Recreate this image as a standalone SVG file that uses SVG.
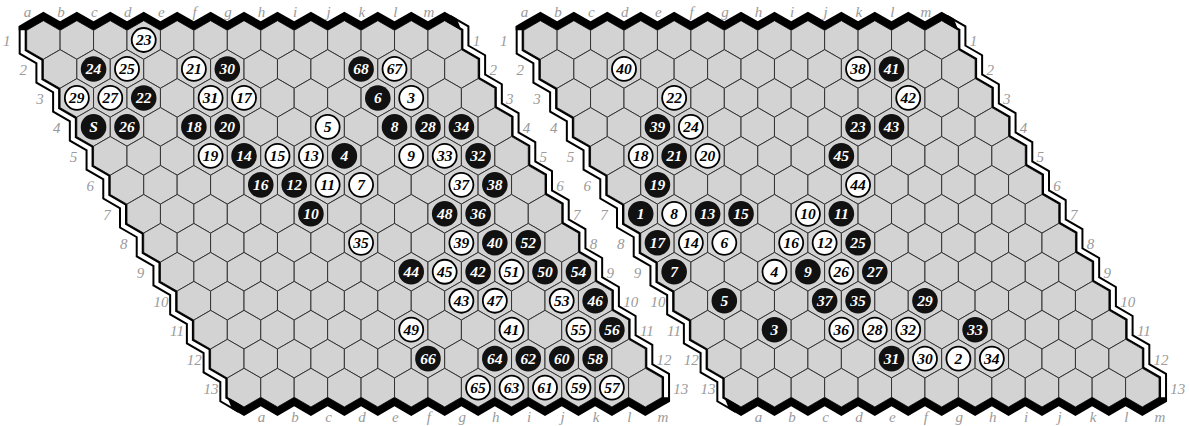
<svg xmlns="http://www.w3.org/2000/svg" width="1190" height="426" viewBox="0 0 1190 426">
<style>
.c{fill:#d3d3d3;stroke:#333;stroke-width:1}
.wb1{fill:none;stroke:#000;stroke-width:8;stroke-linejoin:miter}
.wb2{fill:none;stroke:#fff;stroke-width:4;stroke-linejoin:miter}
.bb{fill:#000}
.lb{font-family:'Liberation Serif','Times New Roman',Times,serif;font-style:italic;font-size:15px;fill:#9a9a9a}
.lt text{text-anchor:middle}
.k{fill:#111}
.w{fill:#fff;stroke:#000;stroke-width:1.8}
.n{font-family:'Liberation Serif','Times New Roman',Times,serif;font-style:italic;font-weight:bold;font-size:15.5px;text-anchor:middle}
.nk{fill:#fff}
.nw{fill:#000}
</style>
<defs>
<path id="hx" class="c" d="M0-19.31L16.72-9.655V9.655L0 19.31L-16.72 9.655V-9.655Z"/>
<g id="row"><use href="#hx"/><use href="#hx" x="33.44"/><use href="#hx" x="66.88"/><use href="#hx" x="100.32"/><use href="#hx" x="133.76"/><use href="#hx" x="167.2"/><use href="#hx" x="200.64"/><use href="#hx" x="234.08"/><use href="#hx" x="267.52"/><use href="#hx" x="300.96"/><use href="#hx" x="334.4"/><use href="#hx" x="367.84"/><use href="#hx" x="401.28"/></g>
<g id="cells"><use href="#row"/><use href="#row" x="16.72" y="28.97"/><use href="#row" x="33.44" y="57.94"/><use href="#row" x="50.16" y="86.91"/><use href="#row" x="66.88" y="115.88"/><use href="#row" x="83.6" y="144.85"/><use href="#row" x="100.32" y="173.82"/><use href="#row" x="117.04" y="202.79"/><use href="#row" x="133.76" y="231.76"/><use href="#row" x="150.48" y="260.73"/><use href="#row" x="167.2" y="289.7"/><use href="#row" x="183.92" y="318.67"/><use href="#row" x="200.64" y="347.64"/></g>
<path id="lp" d="M26.68 24V49.655l16.72 9.655v19.31l16.72 9.655v19.31l16.72 9.655v19.31l16.72 9.655v19.31l16.72 9.655v19.31l16.72 9.655v19.31l16.72 9.655v19.31l16.72 9.655v19.31l16.72 9.655v19.31l16.72 9.655v19.31l16.72 9.655v19.31l16.72 9.655v19.31l16.72 9.655"/>
<path id="rp" d="M444.68 20.69l16.72 9.655v19.31l16.72 9.655v19.31l16.72 9.655v19.31l16.72 9.655v19.31l16.72 9.655v19.31l16.72 9.655v19.31l16.72 9.655v19.31l16.72 9.655v19.31l16.72 9.655v19.31l16.72 9.655v19.31l16.72 9.655v19.31l16.72 9.655v19.31l16.72 9.655v19.31v6"/>
<path id="tb" d="M18.68 25.96L26.68 21.345l16.72-9.655l16.72 9.655l16.72-9.655l16.72 9.655l16.72-9.655l16.72 9.655l16.72-9.655l16.72 9.655l16.72-9.655l16.72 9.655l16.72-9.655l16.72 9.655l16.72-9.655l16.72 9.655l16.72-9.655l16.72 9.655l16.72-9.655l16.72 9.655l16.72-9.655l16.72 9.655l16.72-9.655l16.72 9.655l16.72-9.655l16.72 9.655l16.72-9.655l12 6.928L461.4 30.345l-16.72-9.655l-16.72 9.655l-16.72-9.655l-16.72 9.655l-16.72-9.655l-16.72 9.655l-16.72-9.655l-16.72 9.655l-16.72-9.655l-16.72 9.655l-16.72-9.655l-16.72 9.655l-16.72-9.655l-16.72 9.655l-16.72-9.655l-16.72 9.655l-16.72-9.655l-16.72 9.655l-16.72-9.655l-16.72 9.655l-16.72-9.655l-16.72 9.655l-16.72-9.655l-16.72 9.655l-16.72-9.655l-16.72 9.655L18.68 30.345Z"/>
<path id="bt" d="M227.32 397.3L232 409L244.04 415.95l16.72-9.655l16.72 9.655l16.72-9.655l16.72 9.655l16.72-9.655l16.72 9.655l16.72-9.655l16.72 9.655l16.72-9.655l16.72 9.655l16.72-9.655l16.72 9.655l16.72-9.655l16.72 9.655l16.72-9.655l16.72 9.655l16.72-9.655l16.72 9.655l16.72-9.655l16.72 9.655l16.72-9.655l16.72 9.655l16.72-9.655l16.72 9.655l16.72-9.655l8-4.62V397.3H662.04l-16.72 9.655l-16.72-9.655l-16.72 9.655l-16.72-9.655l-16.72 9.655l-16.72-9.655l-16.72 9.655l-16.72-9.655l-16.72 9.655l-16.72-9.655l-16.72 9.655l-16.72-9.655l-16.72 9.655l-16.72-9.655l-16.72 9.655l-16.72-9.655l-16.72 9.655l-16.72-9.655l-16.72 9.655l-16.72-9.655l-16.72 9.655l-16.72-9.655l-16.72 9.655l-16.72-9.655l-16.72 9.655l-16.72-9.655Z"/>
</defs>

<g id="board1">
<g id="board1-cells"><use href="#cells" x="43.4" y="40"/></g>
<g id="board1-edges">
<use href="#lp" class="wb1" x="-4" y="2.31"/><use href="#lp" class="wb2" x="-4" y="2.31"/>
<use href="#rp" class="wb1" x="4" y="-2.31"/><use href="#rp" class="wb2" x="4" y="-2.31"/>
<use href="#tb" class="bb"/><use href="#bt" class="bb"/>
</g>
<g id="board1-labels" class="lb" font-family="Liberation Serif, serif" font-style="italic">
<g class="lt">
<text x="27.5" y="17">a</text><text x="61" y="17">b</text><text x="94.4" y="17">c</text><text x="127.8" y="17">d</text><text x="161.3" y="17">e</text><text x="194.7" y="17">f</text><text x="228.1" y="17">g</text><text x="261.6" y="17">h</text><text x="295" y="17">i</text><text x="328.5" y="17">j</text><text x="361.9" y="17">k</text><text x="395.3" y="17">l</text><text x="428.8" y="17">m</text>
<text x="261.6" y="422">a</text><text x="295" y="422">b</text><text x="328.5" y="422">c</text><text x="361.9" y="422">d</text><text x="395.3" y="422">e</text><text x="428.8" y="422">f</text><text x="462.2" y="422">g</text><text x="495.7" y="422">h</text><text x="529.1" y="422">i</text><text x="562.5" y="422">j</text><text x="596" y="422">k</text><text x="629.4" y="422">l</text><text x="662.9" y="422">m</text>
</g>
<text x="2.9" y="46">1</text><text x="19.62" y="75">2</text><text x="36.34" y="104">3</text><text x="53.06" y="133">4</text><text x="69.78" y="161.9">5</text><text x="86.5" y="190.9">6</text><text x="103.22" y="219.8">7</text><text x="119.94" y="248.8">8</text><text x="136.66" y="277.8">9</text><text x="153.38" y="306.7">10</text><text x="170.1" y="335.7">11</text><text x="186.82" y="364.7">12</text><text x="203.54" y="393.6">13</text>
<text x="472.68" y="46">1</text><text x="489.4" y="75">2</text><text x="506.12" y="104">3</text><text x="522.84" y="133">4</text><text x="539.56" y="161.9">5</text><text x="556.28" y="190.9">6</text><text x="573" y="219.8">7</text><text x="589.72" y="248.8">8</text><text x="606.44" y="277.8">9</text><text x="623.16" y="306.7">10</text><text x="639.88" y="335.7">11</text><text x="656.6" y="364.7">12</text><text x="673.32" y="393.6">13</text>
</g>
<g id="board1-stones" font-family="Liberation Serif, serif" font-style="italic" font-weight="bold">
<g id="b1-23" transform="translate(143.72,40)"><circle class="w" r="12"/><text class="n nw" y="5.3">23</text></g>
<g id="b1-24" transform="translate(93.56,68.97)"><circle class="k" r="12.8"/><text class="n nk" y="5.3">24</text></g>
<g id="b1-25" transform="translate(127,68.97)"><circle class="w" r="12"/><text class="n nw" y="5.3">25</text></g>
<g id="b1-21" transform="translate(193.88,68.97)"><circle class="w" r="12"/><text class="n nw" y="5.3">21</text></g>
<g id="b1-30" transform="translate(227.32,68.97)"><circle class="k" r="12.8"/><text class="n nk" y="5.3">30</text></g>
<g id="b1-68" transform="translate(361.08,68.97)"><circle class="k" r="12.8"/><text class="n nk" y="5.3">68</text></g>
<g id="b1-67" transform="translate(394.52,68.97)"><circle class="w" r="12"/><text class="n nw" y="5.3">67</text></g>
<g id="b1-29" transform="translate(76.84,97.94)"><circle class="w" r="12"/><text class="n nw" y="5.3">29</text></g>
<g id="b1-27" transform="translate(110.28,97.94)"><circle class="w" r="12"/><text class="n nw" y="5.3">27</text></g>
<g id="b1-22" transform="translate(143.72,97.94)"><circle class="k" r="12.8"/><text class="n nk" y="5.3">22</text></g>
<g id="b1-31" transform="translate(210.6,97.94)"><circle class="w" r="12"/><text class="n nw" y="5.3">31</text></g>
<g id="b1-17" transform="translate(244.04,97.94)"><circle class="w" r="12"/><text class="n nw" y="5.3">17</text></g>
<g id="b1-6" transform="translate(377.8,97.94)"><circle class="k" r="12.8"/><text class="n nk" y="5.3">6</text></g>
<g id="b1-3" transform="translate(411.24,97.94)"><circle class="w" r="12"/><text class="n nw" y="5.3">3</text></g>
<g id="b1-S" transform="translate(93.56,126.91)"><circle class="k" r="12.8"/><text class="n nk" y="5.3">S</text></g>
<g id="b1-26" transform="translate(127,126.91)"><circle class="k" r="12.8"/><text class="n nk" y="5.3">26</text></g>
<g id="b1-18" transform="translate(193.88,126.91)"><circle class="k" r="12.8"/><text class="n nk" y="5.3">18</text></g>
<g id="b1-20" transform="translate(227.32,126.91)"><circle class="k" r="12.8"/><text class="n nk" y="5.3">20</text></g>
<g id="b1-5" transform="translate(327.64,126.91)"><circle class="w" r="12"/><text class="n nw" y="5.3">5</text></g>
<g id="b1-8" transform="translate(394.52,126.91)"><circle class="k" r="12.8"/><text class="n nk" y="5.3">8</text></g>
<g id="b1-28" transform="translate(427.96,126.91)"><circle class="k" r="12.8"/><text class="n nk" y="5.3">28</text></g>
<g id="b1-34" transform="translate(461.4,126.91)"><circle class="k" r="12.8"/><text class="n nk" y="5.3">34</text></g>
<g id="b1-19" transform="translate(210.6,155.88)"><circle class="w" r="12"/><text class="n nw" y="5.3">19</text></g>
<g id="b1-14" transform="translate(244.04,155.88)"><circle class="k" r="12.8"/><text class="n nk" y="5.3">14</text></g>
<g id="b1-15" transform="translate(277.48,155.88)"><circle class="w" r="12"/><text class="n nw" y="5.3">15</text></g>
<g id="b1-13" transform="translate(310.92,155.88)"><circle class="w" r="12"/><text class="n nw" y="5.3">13</text></g>
<g id="b1-4" transform="translate(344.36,155.88)"><circle class="k" r="12.8"/><text class="n nk" y="5.3">4</text></g>
<g id="b1-9" transform="translate(411.24,155.88)"><circle class="w" r="12"/><text class="n nw" y="5.3">9</text></g>
<g id="b1-33" transform="translate(444.68,155.88)"><circle class="w" r="12"/><text class="n nw" y="5.3">33</text></g>
<g id="b1-32" transform="translate(478.12,155.88)"><circle class="k" r="12.8"/><text class="n nk" y="5.3">32</text></g>
<g id="b1-16" transform="translate(260.76,184.85)"><circle class="k" r="12.8"/><text class="n nk" y="5.3">16</text></g>
<g id="b1-12" transform="translate(294.2,184.85)"><circle class="k" r="12.8"/><text class="n nk" y="5.3">12</text></g>
<g id="b1-11" transform="translate(327.64,184.85)"><circle class="w" r="12"/><text class="n nw" y="5.3">11</text></g>
<g id="b1-7" transform="translate(361.08,184.85)"><circle class="w" r="12"/><text class="n nw" y="5.3">7</text></g>
<g id="b1-37" transform="translate(461.4,184.85)"><circle class="w" r="12"/><text class="n nw" y="5.3">37</text></g>
<g id="b1-38" transform="translate(494.84,184.85)"><circle class="k" r="12.8"/><text class="n nk" y="5.3">38</text></g>
<g id="b1-10" transform="translate(310.92,213.82)"><circle class="k" r="12.8"/><text class="n nk" y="5.3">10</text></g>
<g id="b1-48" transform="translate(444.68,213.82)"><circle class="k" r="12.8"/><text class="n nk" y="5.3">48</text></g>
<g id="b1-36" transform="translate(478.12,213.82)"><circle class="k" r="12.8"/><text class="n nk" y="5.3">36</text></g>
<g id="b1-35" transform="translate(361.08,242.79)"><circle class="w" r="12"/><text class="n nw" y="5.3">35</text></g>
<g id="b1-39" transform="translate(461.4,242.79)"><circle class="w" r="12"/><text class="n nw" y="5.3">39</text></g>
<g id="b1-40" transform="translate(494.84,242.79)"><circle class="k" r="12.8"/><text class="n nk" y="5.3">40</text></g>
<g id="b1-52" transform="translate(528.28,242.79)"><circle class="k" r="12.8"/><text class="n nk" y="5.3">52</text></g>
<g id="b1-44" transform="translate(411.24,271.76)"><circle class="k" r="12.8"/><text class="n nk" y="5.3">44</text></g>
<g id="b1-45" transform="translate(444.68,271.76)"><circle class="w" r="12"/><text class="n nw" y="5.3">45</text></g>
<g id="b1-42" transform="translate(478.12,271.76)"><circle class="k" r="12.8"/><text class="n nk" y="5.3">42</text></g>
<g id="b1-51" transform="translate(511.56,271.76)"><circle class="w" r="12"/><text class="n nw" y="5.3">51</text></g>
<g id="b1-50" transform="translate(545,271.76)"><circle class="k" r="12.8"/><text class="n nk" y="5.3">50</text></g>
<g id="b1-54" transform="translate(578.44,271.76)"><circle class="k" r="12.8"/><text class="n nk" y="5.3">54</text></g>
<g id="b1-43" transform="translate(461.4,300.73)"><circle class="w" r="12"/><text class="n nw" y="5.3">43</text></g>
<g id="b1-47" transform="translate(494.84,300.73)"><circle class="w" r="12"/><text class="n nw" y="5.3">47</text></g>
<g id="b1-53" transform="translate(561.72,300.73)"><circle class="w" r="12"/><text class="n nw" y="5.3">53</text></g>
<g id="b1-46" transform="translate(595.16,300.73)"><circle class="k" r="12.8"/><text class="n nk" y="5.3">46</text></g>
<g id="b1-49" transform="translate(411.24,329.7)"><circle class="w" r="12"/><text class="n nw" y="5.3">49</text></g>
<g id="b1-41" transform="translate(511.56,329.7)"><circle class="w" r="12"/><text class="n nw" y="5.3">41</text></g>
<g id="b1-55" transform="translate(578.44,329.7)"><circle class="w" r="12"/><text class="n nw" y="5.3">55</text></g>
<g id="b1-56" transform="translate(611.88,329.7)"><circle class="k" r="12.8"/><text class="n nk" y="5.3">56</text></g>
<g id="b1-66" transform="translate(427.96,358.67)"><circle class="k" r="12.8"/><text class="n nk" y="5.3">66</text></g>
<g id="b1-64" transform="translate(494.84,358.67)"><circle class="k" r="12.8"/><text class="n nk" y="5.3">64</text></g>
<g id="b1-62" transform="translate(528.28,358.67)"><circle class="k" r="12.8"/><text class="n nk" y="5.3">62</text></g>
<g id="b1-60" transform="translate(561.72,358.67)"><circle class="k" r="12.8"/><text class="n nk" y="5.3">60</text></g>
<g id="b1-58" transform="translate(595.16,358.67)"><circle class="k" r="12.8"/><text class="n nk" y="5.3">58</text></g>
<g id="b1-65" transform="translate(478.12,387.64)"><circle class="w" r="12"/><text class="n nw" y="5.3">65</text></g>
<g id="b1-63" transform="translate(511.56,387.64)"><circle class="w" r="12"/><text class="n nw" y="5.3">63</text></g>
<g id="b1-61" transform="translate(545,387.64)"><circle class="w" r="12"/><text class="n nw" y="5.3">61</text></g>
<g id="b1-59" transform="translate(578.44,387.64)"><circle class="w" r="12"/><text class="n nw" y="5.3">59</text></g>
<g id="b1-57" transform="translate(611.88,387.64)"><circle class="w" r="12"/><text class="n nw" y="5.3">57</text></g>
</g>
</g>

<g id="board2" transform="translate(497,0)">
<g id="board2-cells"><use href="#cells" x="43.4" y="40"/></g>
<g id="board2-edges">
<use href="#lp" class="wb1" x="-4" y="2.31"/><use href="#lp" class="wb2" x="-4" y="2.31"/>
<use href="#rp" class="wb1" x="4" y="-2.31"/><use href="#rp" class="wb2" x="4" y="-2.31"/>
<use href="#tb" class="bb"/><use href="#bt" class="bb"/>
</g>
<g id="board2-labels" class="lb" font-family="Liberation Serif, serif" font-style="italic">
<g class="lt">
<text x="27.5" y="17">a</text><text x="61" y="17">b</text><text x="94.4" y="17">c</text><text x="127.8" y="17">d</text><text x="161.3" y="17">e</text><text x="194.7" y="17">f</text><text x="228.1" y="17">g</text><text x="261.6" y="17">h</text><text x="295" y="17">i</text><text x="328.5" y="17">j</text><text x="361.9" y="17">k</text><text x="395.3" y="17">l</text><text x="428.8" y="17">m</text>
<text x="261.6" y="422">a</text><text x="295" y="422">b</text><text x="328.5" y="422">c</text><text x="361.9" y="422">d</text><text x="395.3" y="422">e</text><text x="428.8" y="422">f</text><text x="462.2" y="422">g</text><text x="495.7" y="422">h</text><text x="529.1" y="422">i</text><text x="562.5" y="422">j</text><text x="596" y="422">k</text><text x="629.4" y="422">l</text><text x="662.9" y="422">m</text>
</g>
<text x="2.9" y="46">1</text><text x="19.62" y="75">2</text><text x="36.34" y="104">3</text><text x="53.06" y="133">4</text><text x="69.78" y="161.9">5</text><text x="86.5" y="190.9">6</text><text x="103.22" y="219.8">7</text><text x="119.94" y="248.8">8</text><text x="136.66" y="277.8">9</text><text x="153.38" y="306.7">10</text><text x="170.1" y="335.7">11</text><text x="186.82" y="364.7">12</text><text x="203.54" y="393.6">13</text>
<text x="472.68" y="46">1</text><text x="489.4" y="75">2</text><text x="506.12" y="104">3</text><text x="522.84" y="133">4</text><text x="539.56" y="161.9">5</text><text x="556.28" y="190.9">6</text><text x="573" y="219.8">7</text><text x="589.72" y="248.8">8</text><text x="606.44" y="277.8">9</text><text x="623.16" y="306.7">10</text><text x="639.88" y="335.7">11</text><text x="656.6" y="364.7">12</text><text x="673.32" y="393.6">13</text>
</g>
<g id="board2-stones" font-family="Liberation Serif, serif" font-style="italic" font-weight="bold">
<g id="b2-40" transform="translate(127,68.97)"><circle class="w" r="12"/><text class="n nw" y="5.3">40</text></g>
<g id="b2-38" transform="translate(361.08,68.97)"><circle class="w" r="12"/><text class="n nw" y="5.3">38</text></g>
<g id="b2-41" transform="translate(394.52,68.97)"><circle class="k" r="12.8"/><text class="n nk" y="5.3">41</text></g>
<g id="b2-22" transform="translate(177.16,97.94)"><circle class="w" r="12"/><text class="n nw" y="5.3">22</text></g>
<g id="b2-42" transform="translate(411.24,97.94)"><circle class="w" r="12"/><text class="n nw" y="5.3">42</text></g>
<g id="b2-39" transform="translate(160.44,126.91)"><circle class="k" r="12.8"/><text class="n nk" y="5.3">39</text></g>
<g id="b2-24" transform="translate(193.88,126.91)"><circle class="w" r="12"/><text class="n nw" y="5.3">24</text></g>
<g id="b2-23" transform="translate(361.08,126.91)"><circle class="k" r="12.8"/><text class="n nk" y="5.3">23</text></g>
<g id="b2-43" transform="translate(394.52,126.91)"><circle class="k" r="12.8"/><text class="n nk" y="5.3">43</text></g>
<g id="b2-18" transform="translate(143.72,155.88)"><circle class="w" r="12"/><text class="n nw" y="5.3">18</text></g>
<g id="b2-21" transform="translate(177.16,155.88)"><circle class="k" r="12.8"/><text class="n nk" y="5.3">21</text></g>
<g id="b2-20" transform="translate(210.6,155.88)"><circle class="w" r="12"/><text class="n nw" y="5.3">20</text></g>
<g id="b2-45" transform="translate(344.36,155.88)"><circle class="k" r="12.8"/><text class="n nk" y="5.3">45</text></g>
<g id="b2-19" transform="translate(160.44,184.85)"><circle class="k" r="12.8"/><text class="n nk" y="5.3">19</text></g>
<g id="b2-44" transform="translate(361.08,184.85)"><circle class="w" r="12"/><text class="n nw" y="5.3">44</text></g>
<g id="b2-1" transform="translate(143.72,213.82)"><circle class="k" r="12.8"/><text class="n nk" y="5.3">1</text></g>
<g id="b2-8" transform="translate(177.16,213.82)"><circle class="w" r="12"/><text class="n nw" y="5.3">8</text></g>
<g id="b2-13" transform="translate(210.6,213.82)"><circle class="k" r="12.8"/><text class="n nk" y="5.3">13</text></g>
<g id="b2-15" transform="translate(244.04,213.82)"><circle class="k" r="12.8"/><text class="n nk" y="5.3">15</text></g>
<g id="b2-10" transform="translate(310.92,213.82)"><circle class="w" r="12"/><text class="n nw" y="5.3">10</text></g>
<g id="b2-11" transform="translate(344.36,213.82)"><circle class="k" r="12.8"/><text class="n nk" y="5.3">11</text></g>
<g id="b2-17" transform="translate(160.44,242.79)"><circle class="k" r="12.8"/><text class="n nk" y="5.3">17</text></g>
<g id="b2-14" transform="translate(193.88,242.79)"><circle class="w" r="12"/><text class="n nw" y="5.3">14</text></g>
<g id="b2-6" transform="translate(227.32,242.79)"><circle class="w" r="12"/><text class="n nw" y="5.3">6</text></g>
<g id="b2-16" transform="translate(294.2,242.79)"><circle class="w" r="12"/><text class="n nw" y="5.3">16</text></g>
<g id="b2-12" transform="translate(327.64,242.79)"><circle class="w" r="12"/><text class="n nw" y="5.3">12</text></g>
<g id="b2-25" transform="translate(361.08,242.79)"><circle class="k" r="12.8"/><text class="n nk" y="5.3">25</text></g>
<g id="b2-7" transform="translate(177.16,271.76)"><circle class="k" r="12.8"/><text class="n nk" y="5.3">7</text></g>
<g id="b2-4" transform="translate(277.48,271.76)"><circle class="w" r="12"/><text class="n nw" y="5.3">4</text></g>
<g id="b2-9" transform="translate(310.92,271.76)"><circle class="k" r="12.8"/><text class="n nk" y="5.3">9</text></g>
<g id="b2-26" transform="translate(344.36,271.76)"><circle class="w" r="12"/><text class="n nw" y="5.3">26</text></g>
<g id="b2-27" transform="translate(377.8,271.76)"><circle class="k" r="12.8"/><text class="n nk" y="5.3">27</text></g>
<g id="b2-5" transform="translate(227.32,300.73)"><circle class="k" r="12.8"/><text class="n nk" y="5.3">5</text></g>
<g id="b2-37" transform="translate(327.64,300.73)"><circle class="k" r="12.8"/><text class="n nk" y="5.3">37</text></g>
<g id="b2-35" transform="translate(361.08,300.73)"><circle class="k" r="12.8"/><text class="n nk" y="5.3">35</text></g>
<g id="b2-29" transform="translate(427.96,300.73)"><circle class="k" r="12.8"/><text class="n nk" y="5.3">29</text></g>
<g id="b2-3" transform="translate(277.48,329.7)"><circle class="k" r="12.8"/><text class="n nk" y="5.3">3</text></g>
<g id="b2-36" transform="translate(344.36,329.7)"><circle class="w" r="12"/><text class="n nw" y="5.3">36</text></g>
<g id="b2-28" transform="translate(377.8,329.7)"><circle class="w" r="12"/><text class="n nw" y="5.3">28</text></g>
<g id="b2-32" transform="translate(411.24,329.7)"><circle class="w" r="12"/><text class="n nw" y="5.3">32</text></g>
<g id="b2-33" transform="translate(478.12,329.7)"><circle class="k" r="12.8"/><text class="n nk" y="5.3">33</text></g>
<g id="b2-31" transform="translate(394.52,358.67)"><circle class="k" r="12.8"/><text class="n nk" y="5.3">31</text></g>
<g id="b2-30" transform="translate(427.96,358.67)"><circle class="w" r="12"/><text class="n nw" y="5.3">30</text></g>
<g id="b2-2" transform="translate(461.4,358.67)"><circle class="w" r="12"/><text class="n nw" y="5.3">2</text></g>
<g id="b2-34" transform="translate(494.84,358.67)"><circle class="w" r="12"/><text class="n nw" y="5.3">34</text></g>
</g>
</g>
</svg>
